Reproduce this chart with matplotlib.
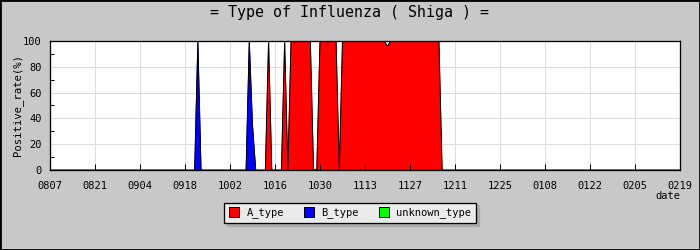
import numpy as np
import pandas as pd
import matplotlib
matplotlib.use('Agg')
import matplotlib.pyplot as plt
import matplotlib.dates as mdates
from matplotlib.patches import Patch, Rectangle

plt.rcParams['font.family'] = ['DejaVu Sans Mono']

# data (daily positive rate, %); days not listed are 0
start_date = '2014-08-07'
end_date = '2015-02-19'

a_dates = ['2014-10-14', '2014-10-19',
           '2014-10-21', '2014-10-22', '2014-10-23', '2014-10-24', '2014-10-25', '2014-10-26', '2014-10-27',
           '2014-10-30', '2014-10-31', '2014-11-01', '2014-11-02', '2014-11-03', '2014-11-04',
           '2014-11-06', '2014-11-07', '2014-11-08', '2014-11-09', '2014-11-10', '2014-11-11', '2014-11-12',
           '2014-11-13', '2014-11-14', '2014-11-15', '2014-11-16', '2014-11-17', '2014-11-18', '2014-11-19',
           '2014-11-20', '2014-11-21', '2014-11-22', '2014-11-23', '2014-11-24', '2014-11-25', '2014-11-26',
           '2014-11-27', '2014-11-28', '2014-11-29', '2014-11-30', '2014-12-01', '2014-12-02', '2014-12-03',
           '2014-12-04', '2014-12-05', '2014-12-06']
a_values = [100, 100,
            100, 100, 100, 100, 100, 100, 100,
            100, 100, 100, 100, 100, 100,
            100, 100, 100, 100, 100, 100, 100,
            100, 100, 100, 100, 100, 100, 100,
            96, 100, 100, 100, 100, 100, 100,
            100, 100, 100, 100, 100, 100, 100,
            100, 100, 100]

b_dates = ['2014-09-22', '2014-10-08', '2014-10-09']
b_values = [100, 100, 35]

u_dates = []
u_values = []

series_names = ['A_type', 'B_type', 'unknown_type']
series_colors = ['#FF0000', '#0000FF', '#00FF00']

days = pd.date_range(start_date, end_date, freq='D')


def daily(dates, values):
    s = pd.Series(values, index=pd.to_datetime(dates), dtype=float)
    return s.reindex(days, fill_value=0.0).values


a = daily(a_dates, a_values)
b = daily(b_dates, b_values)
u = daily(u_dates, u_values)

PX = 0.72  # one pixel in points at dpi 100

fig = plt.figure(figsize=(7, 2.5), dpi=100, facecolor='#C8C8C8')
ax = fig.add_axes([50 / 700, 80 / 250, 630 / 700, 129 / 250])
ax.set_facecolor('white')

bottoms = [np.zeros(len(days)), a, a + b]
for vals, bot, col in zip([a, b, u], bottoms, series_colors):
    mask = vals > 0
    mask = mask | np.roll(mask, 1) | np.roll(mask, -1)
    ax.fill_between(days, bot, bot + vals, where=mask, color=col, edgecolor=col,
                    lw=PX * 0.8, antialiased=True, zorder=1)
ax.plot(days, a + b + u, color='black', lw=PX, antialiased=True, zorder=2)

ax.set_xlim(days[0], days[-1])
ax.set_ylim(0, 100)
xt = pd.date_range(start_date, end_date, freq='14D')
ax.set_xticks(xt)
ax.xaxis.set_major_formatter(mdates.DateFormatter('%m%d'))
ax.set_yticks([0, 20, 40, 60, 80, 100])
ax.set_yticks([10, 30, 50, 70, 90], minor=True)

# grid behind the fills, ticks on top
for xv in xt[1:-1]:
    ax.axvline(xv, color='#DCDCDC', lw=PX, zorder=0.5, antialiased=False)
for yv in [20, 40, 60, 80]:
    ax.axhline(yv, color='#DCDCDC', lw=PX, zorder=0.5, antialiased=False)

ax.tick_params(axis='x', direction='in', length=4, width=PX, pad=8, labelsize=7.5, colors='black')
ax.tick_params(axis='y', which='major', length=0, pad=6, labelsize=7.5)
ax.tick_params(axis='y', which='minor', direction='in', length=3, width=PX)
for sp in ax.spines.values():
    sp.set_linewidth(PX * 1.3)
    sp.set_color('black')

ax.set_ylabel('Positive_rate(%)', fontsize=7.7)
ax.yaxis.set_label_coords(-27 / 630, 0.5)

fig.text(0.5, 1 - 13 / 250, '= Type of Influenza ( Shiga ) =', ha='center', va='center', fontsize=10.8)
fig.text(680 / 700, 1 - 196 / 250, 'date', ha='right', va='center', fontsize=7.5)

handles = [Patch(facecolor=c, edgecolor='black', lw=PX) for c in series_colors]
leg = fig.legend(handles, series_names, loc='center', bbox_to_anchor=(350 / 700, 1 - 212.8 / 250),
                 ncol=3, fontsize=7.5, frameon=True, fancybox=False, handlelength=1.0, handleheight=1.0,
                 handletextpad=0.7, columnspacing=1.9, borderpad=0.45,
                 shadow={'color': '#AAAAAA', 'alpha': 1})
leg.get_frame().set_facecolor('#EBEBEB')
leg.get_frame().set_edgecolor('black')
leg.get_frame().set_linewidth(PX * 1.3)
leg.get_frame().set_alpha(1)

fig.patches.append(Rectangle((0, 0), 1, 1, transform=fig.transFigure, fill=False,
                             edgecolor='black', lw=2))

fig.savefig('out.png', dpi=100, facecolor=fig.get_facecolor())
